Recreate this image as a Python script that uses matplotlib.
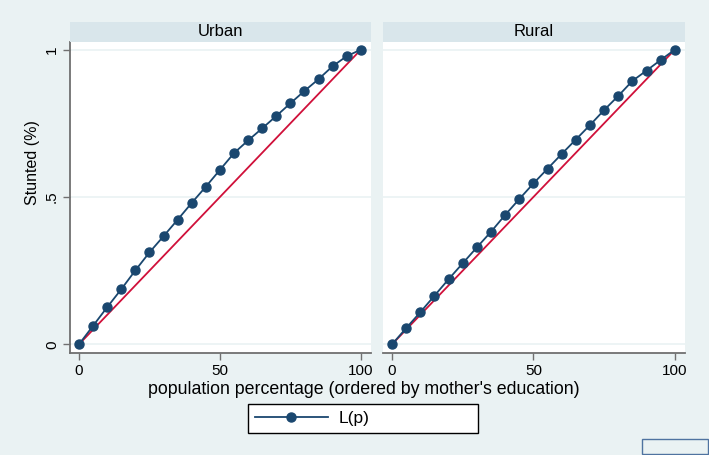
import matplotlib.pyplot as plt
from matplotlib.patches import Rectangle
from matplotlib.lines import Line2D

## Data ##
pop_pct = [0, 5, 10, 15, 20, 25, 30, 35, 40, 45, 50,
           55, 60, 65, 70, 75, 80, 85, 90, 95, 100]
urban_lp = [0.0, 0.063, 0.126, 0.187, 0.251, 0.312, 0.367, 0.423, 0.480, 0.535, 0.592,
            0.649, 0.692, 0.733, 0.775, 0.818, 0.860, 0.900, 0.944, 0.978, 1.0]
rural_lp = [0.0, 0.055, 0.109, 0.165, 0.221, 0.275, 0.329, 0.382, 0.439, 0.493, 0.546,
            0.596, 0.646, 0.695, 0.744, 0.795, 0.843, 0.894, 0.929, 0.965, 1.0]
panels = ["Urban", "Rural"]
x_ticks = [0, 50, 100]
y_ticks = [0, 0.5, 1]
y_tick_labels = ["0", ".5", "1"]

## Colours (Stata s2color look) ##
bg = "#EAF2F3"
strip_col = "#D9E6EB"
navy = "#1A476F"
red = "#D0103A"
spine_col = "#707070"

plt.rcParams["font.family"] = ["Liberation Sans", "DejaVu Sans"]

W, H = 709, 455
fig = plt.figure(figsize=(W / 100, H / 100), dpi=100, facecolor=bg)

## Panel positions in pixels (left, top, right, bottom) ##
boxes = [(70, 42, 371, 353), (383, 42, 685, 353)]
series = [urban_lp, rural_lp]

for i, (name, lp, (l, t, r, b)) in enumerate(zip(panels, series, boxes)):
    ax = fig.add_axes([l / W, 1 - b / H, (r - l) / W, (b - t) / H])
    ax.set_facecolor("white")
    ax.set_xlim(-3.2, 103.6)
    ax.set_ylim(-0.0295, 1.026)

    for yv in y_ticks:
        ax.axhline(yv, color=bg, lw=1.2, zorder=0)

    ## Line of equality and the concentration curve ##
    ax.plot([0, 100], [0, 1], color=red, lw=1.3, zorder=2)
    ax.plot(pop_pct, lp, color=navy, lw=1.3, marker="o", markersize=6.5,
            markeredgecolor=navy, zorder=3)

    ax.set_xticks(x_ticks)
    ax.set_xticklabels([str(v) for v in x_ticks])
    ax.tick_params(axis="x", length=5, width=1, color=spine_col, labelsize=11,
                   pad=3)
    for s in ["top", "right"]:
        ax.spines[s].set_visible(False)
    ax.spines["bottom"].set_color(spine_col)
    ax.spines["bottom"].set_linewidth(1.3)

    if i == 0:
        ax.set_yticks(y_ticks)
        ax.set_yticklabels(y_tick_labels, rotation=90, va="center")
        ax.tick_params(axis="y", length=5, width=1, color=spine_col,
                       labelsize=11, pad=3)
        ax.spines["left"].set_color(spine_col)
        ax.spines["left"].set_linewidth(1.3)
    else:
        ax.set_yticks([])
        ax.spines["left"].set_visible(False)

    ## Strip title ##
    fig.patches.append(Rectangle((l / W, 1 - t / H), (r - l) / W, 20 / H,
                                 transform=fig.transFigure, facecolor=strip_col,
                                 edgecolor="none"))
    fig.text((l + r) / 2 / W, 1 - 32 / H, name, ha="center", va="center",
             fontsize=12)

## Axis titles ##
fig.text(364 / W, 1 - 390 / H, "population percentage (ordered by mother's education)",
         ha="center", va="center", fontsize=12.8)
fig.text(33 / W, 1 - 163 / H, "Stunted (%)", ha="center", va="center",
         rotation=90, fontsize=11.5)

## Legend ##
handle = Line2D([], [], color=navy, lw=1.3, marker="o", markersize=6.5)
leg = fig.legend([handle], ["L(p)"], loc="lower left", mode="expand",
                 bbox_to_anchor=(248 / W, 1 - 433 / H, 230 / W, 29 / H),
                 fancybox=False, edgecolor="black", facecolor="white",
                 framealpha=1, fontsize=12.5, handlelength=4.2,
                 handletextpad=0.6, borderaxespad=0, borderpad=0.4)
leg.get_frame().set_linewidth(1.0)

## Small empty box at the bottom right ##
fig.patches.append(Rectangle((642 / W, 1 - 454 / H), 66 / W, 15 / H,
                             transform=fig.transFigure, facecolor="none",
                             edgecolor="#4F73A0", lw=1.0))

plt.savefig("out.png", dpi=100, facecolor=bg)
